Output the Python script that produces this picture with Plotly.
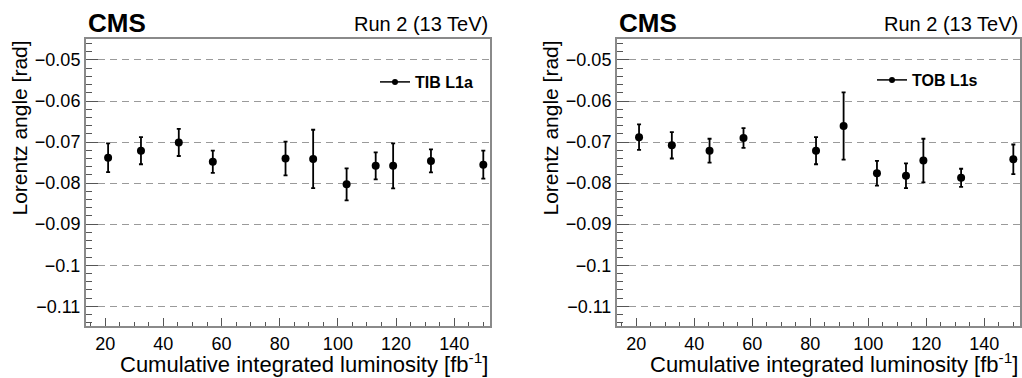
import plotly.graph_objects as go

# Cumulative integrated luminosity [fb-1] of each measurement
lumi = [21, 32.3, 45.3, 57, 82, 91.5, 103, 113, 119, 132, 150]

# Lorentz angle [rad] and uncertainty, TIB layer 1 axial
la_tib = [-0.0738, -0.0721, -0.0701, -0.0748, -0.0740, -0.0741, -0.0803, -0.0758, -0.0758, -0.0746, -0.0755]
err_tib = [0.0035, 0.0033, 0.0033, 0.0027, 0.0041, 0.0071, 0.0039, 0.0033, 0.0055, 0.0028, 0.0034]

# Lorentz angle [rad] and uncertainty, TOB layer 1 stereo
la_tob = [-0.0688, -0.0708, -0.0721, -0.0690, -0.0721, -0.0661, -0.0776, -0.0782, -0.0745, -0.0787, -0.0742]
err_tob = [0.0031, 0.0032, 0.0029, 0.0024, 0.0033, 0.0082, 0.0030, 0.0030, 0.0053, 0.0022, 0.0036]

ytick_vals = [-0.05, -0.06, -0.07, -0.08, -0.09, -0.1, -0.11]
ytick_text = ["\u22120.05", "\u22120.06", "\u22120.07", "\u22120.08", "\u22120.09", "\u22120.1", "\u22120.11"]

FONT = "Liberation Sans, Arial, sans-serif"
W, H = 1022, 378
FRAME = "#8a8a8a"
GRID = "#9a9a9a"

panels = [
    # (label, values, errors, x-domain in px, legend x right edge px, legend y px)
    ("TIB L1a", la_tib, err_tib, (86, 490), 478, 82),
    ("TOB L1s", la_tob, err_tob, (617, 1020), 983, 80),
]

fig = go.Figure()
layout = {}
annotations = []

for i, (label, vals, errs, (x0, x1), lx, ly) in enumerate(panels):
    n = "" if i == 0 else str(i + 1)
    xa, ya = "x" + n, "y" + n
    leg = "legend" + n

    fig.add_trace(go.Scatter(
        x=lumi, y=vals, mode="markers", xaxis=xa, yaxis=ya,
        marker=dict(color="black", size=8),
        error_y=dict(type="data", array=errs, color="black", thickness=1.8, width=2),
        showlegend=False,
    ))
    # legend entry only (line + marker symbol)
    fig.add_trace(go.Scatter(
        x=[None], y=[None], mode="lines+markers", xaxis=xa, yaxis=ya,
        name=label, legend=leg,
        line=dict(color="black", width=1.5), marker=dict(color="black", size=6),
    ))

    layout["xaxis" + n] = dict(
        domain=[x0 / W, x1 / W], anchor=ya, range=[13.4, 152.3],
        showline=True, linecolor=FRAME, linewidth=2, mirror=True,
        ticks="inside", ticklen=8, tickcolor="#555", tickwidth=1,
        dtick=20, tick0=0, showgrid=False, zeroline=False,
        minor=dict(ticks="inside", ticklen=4, dtick=5, tick0=0, tickcolor="#555", showgrid=False),
        tickfont=dict(family=FONT, size=18, color="black"),
    )
    layout["yaxis" + n] = dict(
        domain=[1 - 326 / H, 1 - 39 / H], anchor=xa, range=[-0.1148, -0.0449],
        showline=True, linecolor=FRAME, linewidth=2, mirror=True,
        ticks="inside", ticklen=12, tickcolor="#555", tickwidth=1,
        tickmode="array", tickvals=ytick_vals, ticktext=ytick_text,
        showgrid=True, gridcolor=GRID, gridwidth=1.3, griddash="7px,5px", zeroline=False,
        minor=dict(ticks="inside", ticklen=6, dtick=0.002, tick0=0, tickcolor="#555", showgrid=False),
        tickfont=dict(family=FONT, size=18, color="black"),
    )
    layout[leg] = dict(
        x=lx / W, xanchor="right", y=1 - ly / H, yanchor="middle",
        bgcolor="rgba(0,0,0,0)", itemwidth=30,
        font=dict(family=FONT, size=16, color="black", weight="bold"),
    )

    annotations += [
        dict(text="<b>CMS</b>", x=x0 / W, xanchor="left", y=1 - 23 / H, yanchor="middle",
             xref="paper", yref="paper", showarrow=False,
             font=dict(family=FONT, size=26, color="black")),
        dict(text="Run 2 (13 TeV)", x=x1 / W, xanchor="right", y=1 - 24 / H, yanchor="middle",
             xref="paper", yref="paper", showarrow=False,
             font=dict(family=FONT, size=20, color="black")),
        dict(text="Lorentz angle [rad]", textangle=-90, x=(x0 - 67) / W, xanchor="center",
             y=1 - 39 / H, yanchor="top", xref="paper", yref="paper", showarrow=False,
             font=dict(family=FONT, size=21, color="black")),
        dict(text="Cumulative integrated luminosity [fb<sup>-1</sup>]", x=x1 / W, xanchor="right",
             y=1 - 363 / H, yanchor="middle", xref="paper", yref="paper", showarrow=False,
             font=dict(family=FONT, size=22, color="black")),
    ]

fig.update_layout(
    width=W, height=H, margin=dict(l=0, r=0, t=0, b=0),
    paper_bgcolor="white", plot_bgcolor="white",
    annotations=annotations, **layout,
)

# drop the browser's default page margin so the figure sits at the window origin
fig.write_html("out.html", config={"displayModeBar": False},
               post_script="document.body.style.margin='0';")
